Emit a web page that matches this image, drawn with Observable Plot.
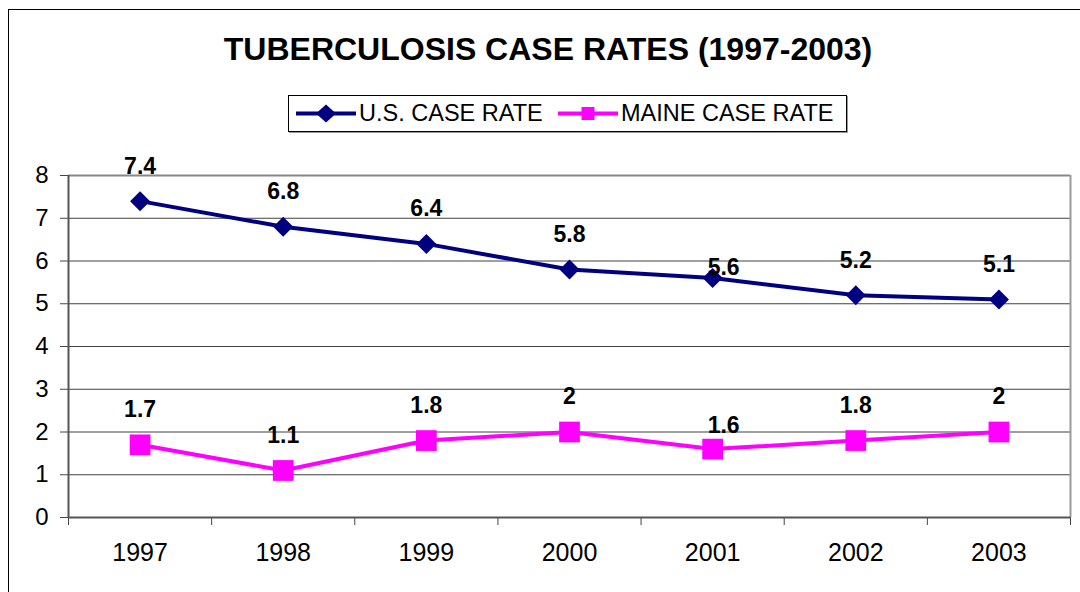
<!DOCTYPE html>
<html>
<head>
<meta charset="utf-8">
<script src="https://cdn.jsdelivr.net/npm/d3@7"></script>
<script src="https://cdn.jsdelivr.net/npm/@observablehq/plot@0.6"></script>
<style>
  html, body { margin: 0; padding: 0; background: #fff; overflow: hidden; }
  #wrap { position: relative; width: 1080px; height: 592px; overflow: hidden; font-family: "Liberation Sans", Arial, sans-serif; }
  #frame { position: absolute; left: 8px; top: 9px; width: 1200px; height: 800px; border: 1px solid #000; box-sizing: border-box; }
  #title { position: absolute; left: 8px; top: 33px; width: 1080px; text-align: center; font-weight: bold; font-size: 32px; line-height: 32px; color: #000; }
  #legend { position: absolute; left: 288px; top: 95px; width: 559px; height: 37px; border: 1px solid #000; box-sizing: border-box; box-shadow: 1px 1px 0 #999; background: #fff; }
  #legend .sw { position: absolute; top: 0; }
  #legend .lab { position: absolute; top: 0; height: 35px; line-height: 35px; font-size: 23.5px; color: #000; white-space: nowrap; }
  #chart { position: absolute; left: 0; top: 0; }
</style>
</head>
<body>
<div id="wrap">
  <div id="frame"></div>
  <div id="chart"></div>
  <div id="title"></div>
  <div id="legend"></div>
</div>
<script>
// ---- data ----
const years = [1997, 1998, 1999, 2000, 2001, 2002, 2003];
const usRate = [7.4, 6.8, 6.4, 5.8, 5.6, 5.2, 5.1];
const maineRate = [1.7, 1.1, 1.8, 2, 1.6, 1.8, 2];
const yTicks = [0, 1, 2, 3, 4, 5, 6, 7, 8];
const seriesNames = ["U.S. CASE RATE", "MAINE CASE RATE"];
const titleText = "TUBERCULOSIS CASE RATES (1997-2003)";

const navy = "#000080";
const magenta = "#FF00FF";

const us = years.map((year, i) => ({year, value: usRate[i], series: seriesNames[0]}));
const maine = years.map((year, i) => ({year, value: maineRate[i], series: seriesNames[1]}));
const boundaries = years.map(y => y - 0.5).concat([years[years.length - 1] + 0.5]);
const xDomain = [boundaries[0], boundaries[boundaries.length - 1]];

const fmt = v => String(v);
const shifted = d => d.year === 2001; // labels Excel nudged aside

const plot = Plot.plot({
  width: 1080,
  height: 592,
  marginTop: 175,
  marginBottom: 75,
  marginLeft: 68,
  marginRight: 10,
  style: {fontFamily: "'Liberation Sans', Arial, sans-serif", background: "transparent", color: "#000"},
  x: {type: "linear", domain: xDomain},
  y: {domain: [0, 8]},
  marks: [
    Plot.gridY(yTicks, {stroke: "#000", strokeOpacity: 0.75, strokeWidth: 1}),
    Plot.ruleY([yTicks[yTicks.length - 1]], {stroke: "#888", strokeWidth: 2}),
    Plot.ruleX([xDomain[1]], {stroke: "#999", strokeWidth: 2}),
    Plot.axisY({ticks: yTicks, tickSize: 8, tickPadding: 12, fontSize: 24, stroke: "#444", label: null, tickFormat: fmt}),
    Plot.axisX({ticks: boundaries, tickSize: 8, tickFormat: () => "", stroke: "#444", label: null}),
    Plot.axisX({ticks: years, tickSize: 0, tickPadding: 26, fontSize: 25, tickFormat: fmt, label: null}),
    Plot.ruleX([xDomain[0]], {stroke: "#555", strokeWidth: 2}),
    Plot.ruleY([0], {stroke: "#555", strokeWidth: 2}),
    Plot.line(us, {x: "year", y: "value", stroke: navy, strokeWidth: 4}),
    Plot.line(maine, {x: "year", y: "value", stroke: magenta, strokeWidth: 4}),
    Plot.dot(us, {x: "year", y: "value", symbol: "diamond2", r: 9, fill: navy, stroke: "none"}),
    Plot.dot(maine, {x: "year", y: "value", symbol: "square", r: 11.7, fill: magenta, stroke: "none"}),
    Plot.text(us.concat(maine), {filter: d => !shifted(d), x: "year", y: "value", text: d => fmt(d.value), dy: -35, fontSize: 23, fontWeight: "bold", fill: "#000"}),
    Plot.text(us, {filter: shifted, x: "year", y: "value", text: d => fmt(d.value), dx: 11, dy: -10, fontSize: 23, fontWeight: "bold", fill: "#000"}),
    Plot.text(maine, {filter: shifted, x: "year", y: "value", text: d => fmt(d.value), dx: 11, dy: -23, fontSize: 23, fontWeight: "bold", fill: "#000"})
  ]
});
document.getElementById("chart").appendChild(plot);

document.getElementById("title").textContent = titleText;

// legend
const legend = document.getElementById("legend");
function swatch(left, color, symbol) {
  const s = d3.create("svg").attr("class", "sw").attr("width", 64).attr("height", 35).style("left", left + "px");
  s.append("line").attr("x1", 2).attr("x2", 62).attr("y1", 17.5).attr("y2", 17.5).attr("stroke", color).attr("stroke-width", 4);
  if (symbol === "diamond") {
    s.append("path").attr("d", "M32,8.5 L42,17.5 L32,26.5 L22,17.5 Z").attr("fill", color);
  } else {
    s.append("rect").attr("x", 25.5).attr("y", 11).attr("width", 13).attr("height", 13).attr("fill", color);
  }
  legend.appendChild(s.node());
}
function label(left, text) {
  const d = document.createElement("div");
  d.className = "lab";
  d.style.left = left + "px";
  d.textContent = text;
  legend.appendChild(d);
}
swatch(5, navy, "diamond");
label(70, seriesNames[0]);
swatch(267, magenta, "square");
label(332, seriesNames[1]);
</script>
</body>
</html>
